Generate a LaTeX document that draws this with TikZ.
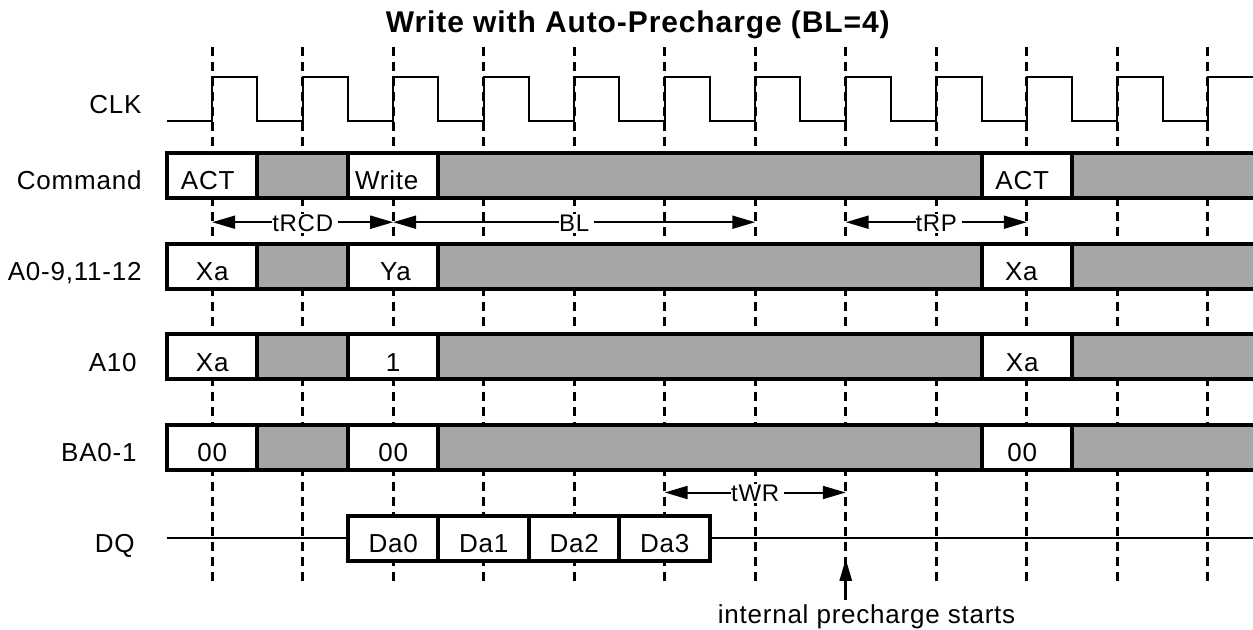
\documentclass[tikz,border=0pt]{standalone}
\usepackage{fontspec}
\setmainfont{Liberation Sans}[LetterSpace=3]
\usetikzlibrary{arrows.meta}
\definecolor{busgray}{HTML}{A6A6A6}
\tikzset{
    clkline/.style={line width=1pt},
    edgeline/.style={line width=1.5pt, dash pattern=on 4.5pt off 3pt},
    busline/.style={line width=2pt},
    dqline/.style={line width=1.25pt},
    dim/.style={line width=1pt, {Triangle[length=11.5pt,width=6.5pt]}-{Triangle[length=11.5pt,width=6.5pt]}},
    dimlbl/.style={font=\fontsize{12pt}{14pt}\selectfont, fill=white, inner ysep=0.5pt, inner xsep=0pt, anchor=base, yshift=-4.75pt, xshift=1.25pt, execute at end node=\kern2.5pt},
    sig/.style={font=\fontsize{13pt}{15pt}\selectfont, anchor=base east, inner sep=0pt},
    val/.style={font=\fontsize{13pt}{15pt}\selectfont, anchor=base, inner sep=0pt},
}
\begin{document}
\begin{tikzpicture}[x=22.635pt, y=-0.5pt]
    \useasboundingbox (-4.6897,0) rectangle (23,630);
    \node[font=\bfseries\fontsize{15pt}{17pt}\selectfont, anchor=base] (title) at (9.404,33) {Write with Auto-Precharge (BL=4)};
    \foreach \k in {0,...,11}
        \draw[edgeline] (2*\k,47) -- (2*\k,587);
    \draw[clkline] (-1,120.7) \foreach \k in {0,...,10} { -- (2*\k,120.7) -- (2*\k,76.7) -- (2*\k+1,76.7) -- (2*\k+1,120.7) } -- (22,120.7) -- (22,76.7) -- (23.3,76.7);
    \foreach \yc in {175.5,266.2,356.9,447.6} {
        \fill[busgray] (-1,\yc-22.5) rectangle (23.3,\yc+22.5);
        \foreach \a in {-1,3,17}
            \fill[white] (\a,\yc-22.5) rectangle (\a+2,\yc+22.5);
        \draw[busline] (23.3,\yc-22.5) -| (-1,\yc+22.5) -- (23.3,\yc+22.5);
        \foreach \a in {1,3,5,17,19}
            \draw[busline] (\a,\yc-22.5) -- (\a,\yc+22.5);
    }
    \draw[dqline] (-1,538.3) -- (3,538.3);
    \draw[dqline] (11,538.3) -- (23.3,538.3);
    \foreach \i in {0,...,3} {
        \draw[busline, fill=white] (3+2*\i,516) rectangle (5+2*\i,561);
        \node[val] (da\i) at (4+2*\i,552.8) {Da\i};
    }
    \node[sig] (clkl) at (-1.553,113.3) {CLK};
    \node[sig] (cmdl) at (-1.553,190) {Command};
    \node[sig] (addrl) at (-1.553,280.7) {A0-9,11-12};
    \node[sig] (a10l) at (-1.663,371.4) {A10};
    \node[sig] (bal) at (-1.663,462.1) {BA0-1};
    \node[sig] (dql) at (-1.708,552.8) {DQ};
    \node[val] (act1) at (-0.1,190) {ACT};
    \node[val, anchor=base west] (wr) at (3.15,190) {Write};
    \node[val] (act2) at (17.9,190) {ACT};
    \node[val] (xa1) at (0,280.7) {Xa};
    \node[val] (ya) at (4.05,280.7) {Ya};
    \node[val] (xa2) at (17.88,280.7) {Xa};
    \node[val] (xa3) at (0,371.4) {Xa};
    \node[val] (ap) at (4,371.4) {1};
    \node[val] (xa4) at (17.9,371.4) {Xa};
    \node[val] (ba1) at (0,462.1) {00};
    \node[val] (ba2) at (4,462.1) {00};
    \node[val] (ba3) at (17.9,462.1) {00};
    \foreach \k in {0,...,11} {
        \coordinate (t\k) at (2*\k,222.3);
        \coordinate (w\k) at (2*\k,492.7);
    }
    \draw[dim] (t0) -- (t2) node[dimlbl, midway] (trcd) {tRCD};
    \draw[dim] (t2) -- (t6) node[dimlbl, midway] (bl) {BL};
    \draw[dim] (t7) -- (t9) node[dimlbl, midway] (trp) {tRP};
    \draw[dim] (w5) -- (w7) node[dimlbl, midway] (twr) {tWR};
    \coordinate (pctail) at (14,600);
    \coordinate (pctip) at (14,559);
    \draw[line width=1.3pt, -{Triangle[length=11pt,width=6pt]}] (pctail) -- (pctip);
    \node[font=\fontsize{13pt}{15pt}\selectfont, anchor=base, inner sep=0pt] (pcl) at (14.46,624) {internal precharge starts};
\end{tikzpicture}
\end{document}
